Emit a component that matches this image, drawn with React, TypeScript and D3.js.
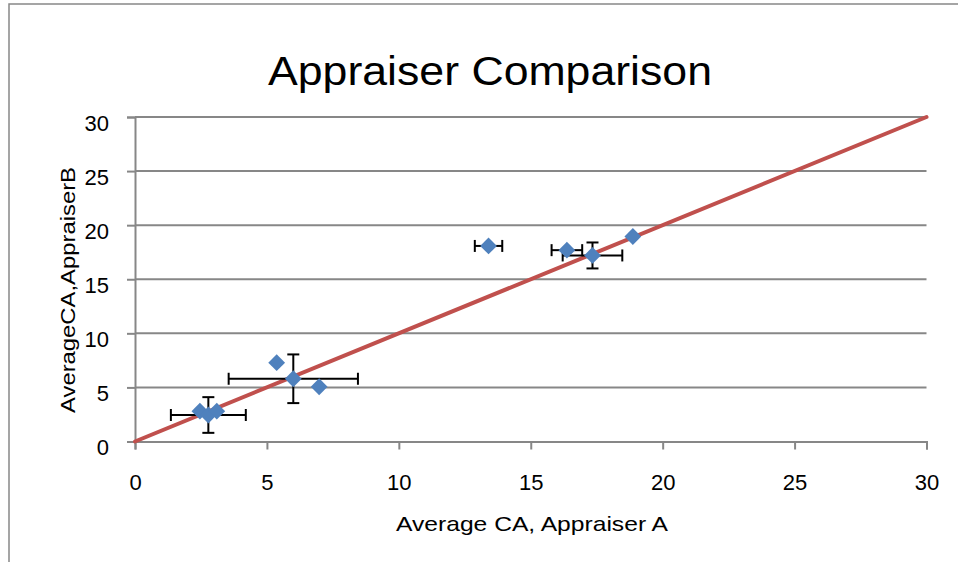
import { useRef, useEffect } from 'react';
import * as d3 from 'd3';

// appraiser A average, appraiser B average
const avgA = [5.37, 6.0, 6.98, 2.46, 2.78, 3.1, 13.4, 16.37, 17.34, 18.87];
const avgB = [7.29, 5.8, 5.06, 2.8, 2.45, 2.8, 18.08, 17.69, 17.2, 18.95];
// error bar half-widths (0 = none)
const errA = [0, 2.45, 0, 0, 1.42, 0, 0.52, 0.58, 1.13, 0];
const errB = [0, 2.25, 0, 0, 1.65, 0, 0, 0, 1.2, 0];
const ticks = [0, 5, 10, 15, 20, 25, 30];
const refLine = [0, 30];

export default function App() {
  const ref = useRef<SVGSVGElement>(null);

  useEffect(() => {
    if (!ref.current) return;
    const width = 958;
    const height = 562;
    const font = 'Liberation Sans, Arial, sans-serif';

    d3.select(ref.current).selectAll('*').remove();
    const svg = d3.select(ref.current).attr('width', width).attr('height', height);

    svg
      .append('rect')
      .attr('x', 9)
      .attr('y', 4)
      .attr('width', 960)
      .attr('height', 570)
      .attr('fill', '#fff')
      .attr('stroke', '#888')
      .attr('stroke-width', 1.5);

    const x = d3.scaleLinear().domain([0, 30]).range([135, 926.5]);
    const y = d3.scaleLinear().domain([0, 30]).range([441.5, 117]);

    // gridlines
    svg
      .append('g')
      .selectAll('line')
      .data(ticks.slice(1))
      .join('line')
      .attr('x1', x(0))
      .attr('x2', x(30))
      .attr('y1', (d) => y(d))
      .attr('y2', (d) => y(d))
      .attr('stroke', '#878787')
      .attr('stroke-width', 2);

    const yAxis = svg
      .append('g')
      .attr('transform', `translate(${x(0)},0)`)
      .call(d3.axisLeft(y).tickValues(ticks).tickSize(8).tickPadding(18).tickFormat(d3.format('d')));
    const xAxis = svg
      .append('g')
      .attr('transform', `translate(0,${y(0)})`)
      .call(d3.axisBottom(x).tickValues(ticks).tickSize(8).tickPadding(25).tickFormat(d3.format('d')));
    [yAxis, xAxis].forEach((g) => {
      g.select('.domain').attr('stroke', '#878787').attr('stroke-width', 2);
      g.selectAll('.tick line').attr('stroke', '#878787').attr('stroke-width', 2);
      g.selectAll('.tick text')
        .attr('fill', '#000')
        .style('font-family', font)
        .style('font-size', '22px');
    });
    yAxis.selectAll('.tick text').attr('dy', '0.6em');

    // reference line y = x
    svg
      .append('line')
      .attr('x1', x(refLine[0]))
      .attr('y1', y(refLine[0]))
      .attr('x2', x(refLine[1]))
      .attr('y2', y(refLine[1]))
      .attr('stroke', '#C0504D')
      .attr('stroke-width', 4)
      .attr('stroke-linecap', 'round');

    const data = avgA.map((a, i) => ({ a, b: avgB[i], ea: errA[i], eb: errB[i] }));

    // error bars
    const eg = svg.append('g').attr('stroke', '#000').attr('stroke-width', 2);
    data.forEach((d) => {
      const cx = x(d.a);
      const cy = y(d.b);
      if (d.ea > 0) {
        const x1 = x(d.a - d.ea);
        const x2 = x(d.a + d.ea);
        eg.append('line').attr('x1', x1).attr('x2', x2).attr('y1', cy).attr('y2', cy);
        eg.append('line').attr('x1', x1).attr('x2', x1).attr('y1', cy - 6).attr('y2', cy + 6);
        eg.append('line').attr('x1', x2).attr('x2', x2).attr('y1', cy - 6).attr('y2', cy + 6);
      }
      if (d.eb > 0) {
        const y1 = y(d.b - d.eb);
        const y2 = y(d.b + d.eb);
        eg.append('line').attr('x1', cx).attr('x2', cx).attr('y1', y1).attr('y2', y2);
        eg.append('line').attr('x1', cx - 6).attr('x2', cx + 6).attr('y1', y1).attr('y2', y1);
        eg.append('line').attr('x1', cx - 6).attr('x2', cx + 6).attr('y1', y2).attr('y2', y2);
      }
    });

    // diamonds
    svg
      .append('g')
      .selectAll('path')
      .data(data)
      .join('path')
      .attr('transform', (d) => `translate(${x(d.a)},${y(d.b)})`)
      .attr('d', d3.symbol(d3.symbolDiamond2, 180)())
      .attr('fill', '#4F81BD');

    svg
      .append('text')
      .attr('x', 490)
      .attr('y', 85)
      .attr('text-anchor', 'middle')
      .attr('textLength', 444)
      .attr('lengthAdjust', 'spacingAndGlyphs')
      .style('font-family', font)
      .style('font-size', '41px')
      .text('Appraiser Comparison');

    svg
      .append('text')
      .attr('x', 532)
      .attr('y', 531)
      .attr('text-anchor', 'middle')
      .attr('textLength', 272)
      .attr('lengthAdjust', 'spacingAndGlyphs')
      .style('font-family', font)
      .style('font-size', '21px')
      .text('Average CA, Appraiser A');

    svg
      .append('text')
      .attr('transform', 'translate(75,290) rotate(-90)')
      .attr('text-anchor', 'middle')
      .attr('textLength', 246)
      .attr('lengthAdjust', 'spacingAndGlyphs')
      .style('font-family', font)
      .style('font-size', '21px')
      .text('AverageCA,AppraiserB');
  }, []);

  return <svg ref={ref} style={{ position: 'absolute', left: 0, top: 0 }}></svg>;
}
